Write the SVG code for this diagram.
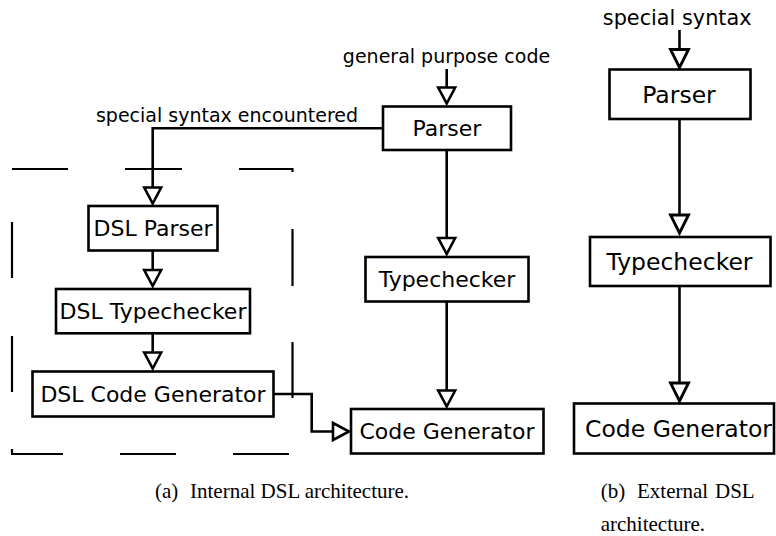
<svg xmlns="http://www.w3.org/2000/svg" width="776" height="536" viewBox="0 0 776 536">
<style>
.box{fill:#fff;stroke:#000;stroke-width:2.6}
.lbl{font-family:"DejaVu Sans",sans-serif;text-anchor:middle;fill:#000;font-size:22px}
.rlbl{font-family:"DejaVu Sans",sans-serif;text-anchor:middle;fill:#000;font-size:23.5px}
.elab{font-family:"DejaVu Sans",sans-serif;text-anchor:middle;fill:#000;font-size:19px}
.conn{fill:none;stroke:#000;stroke-width:2.6}
.dash{fill:none;stroke:#000;stroke-width:2.2}
.cap{font-family:"Liberation Serif","Times New Roman",serif;font-size:21px;fill:#000}
</style>
<defs>
<marker id="tri" markerUnits="userSpaceOnUse" viewBox="-3 -12 22 24" markerWidth="22" markerHeight="24" refX="16" refY="0" orient="auto" overflow="visible">
<path d="M0,-8.5 L16,0 L0,8.5 Z" fill="#fff" stroke="#000" stroke-width="2.6"/>
</marker>
<marker id="triB" markerUnits="userSpaceOnUse" viewBox="-3 -13 24 26" markerWidth="24" markerHeight="26" refX="18" refY="0" orient="auto" overflow="visible">
<path d="M0,-9 L18,0 L0,9 Z" fill="#fff" stroke="#000" stroke-width="2.8"/>
</marker>
</defs>

<g id="dsl-boundary">
<path class="dash" d="M12,169 H68 M125,169 H182 M239,169 H292.5 V172 M292.5,229 V286 M292.5,342 V398 M12,449 V454 H63 M120,454 H176 M233,454 H289 M12,222 V278 M12,336 V392"/>
</g>

<g id="connectors">
<path class="conn" d="M446.7,69 V103.5" marker-end="url(#tri)"/>
<path class="conn" d="M383,128.3 H152.7 V203.5" marker-end="url(#tri)"/>
<path class="conn" d="M446.7,150 V254" marker-end="url(#tri)"/>
<path class="conn" d="M152.7,250.5 V286" marker-end="url(#tri)"/>
<path class="conn" d="M152.7,333.3 V368.5" marker-end="url(#tri)"/>
<path class="conn" d="M446.7,301.5 V406.5" marker-end="url(#tri)"/>
<path class="conn" d="M273.5,394 H311.7 V431.5 H349" marker-end="url(#tri)"/>
<path class="conn" d="M679.5,30 V67.5" marker-end="url(#triB)"/>
<path class="conn" d="M679.5,119 V233" marker-end="url(#triB)"/>
<path class="conn" d="M679.5,286 V401" marker-end="url(#triB)"/>
</g>

<g id="edge-labels">
<text class="elab" x="446.5" y="63">general purpose code</text>
<text class="elab" x="227" y="121.5">special syntax encountered</text>
<text class="elab" x="677.2" y="25" style="font-size:20.8px">special syntax</text>
</g>

<g id="parser">
<rect class="box" x="383" y="106.5" width="128" height="43.5"/>
<text class="lbl" x="447" y="136">Parser</text>
</g>
<g id="typechecker">
<rect class="box" x="365.5" y="257" width="163" height="44.5"/>
<text class="lbl" x="447" y="287">Typechecker</text>
</g>
<g id="code-generator">
<rect class="box" x="351" y="409" width="192.5" height="44.5"/>
<text class="lbl" x="447" y="439">Code Generator</text>
</g>
<g id="dsl-parser">
<rect class="box" x="88.5" y="206" width="129" height="44.5"/>
<text class="lbl" x="153" y="236.3">DSL Parser</text>
</g>
<g id="dsl-typechecker">
<rect class="box" x="56" y="289" width="194" height="44.3"/>
<text class="lbl" x="153" y="319">DSL Typechecker</text>
</g>
<g id="dsl-code-generator">
<rect class="box" x="32.5" y="371.5" width="241" height="45"/>
<text class="lbl" x="153" y="402">DSL Code Generator</text>
</g>

<g id="ext-parser">
<rect class="box" x="609.5" y="69.5" width="141" height="49.5"/>
<text class="rlbl" x="679" y="102.5">Parser</text>
</g>
<g id="ext-typechecker">
<rect class="box" x="590" y="237" width="180.5" height="49"/>
<text class="rlbl" x="679.5" y="270">Typechecker</text>
</g>
<g id="ext-code-generator">
<rect class="box" x="574" y="403.5" width="200" height="50"/>
<text class="rlbl" x="678.5" y="437">Code Generator</text>
</g>

<g id="captions">
<text class="cap" y="498.3"><tspan x="155">(a)</tspan><tspan x="190">Internal DSL architecture.</tspan></text>
<text class="cap" y="498.3"><tspan x="600.7">(b)</tspan><tspan x="637">External</tspan><tspan x="715">DSL</tspan></text>
<text class="cap" x="600.7" y="531">architecture.</text>
</g>
</svg>
